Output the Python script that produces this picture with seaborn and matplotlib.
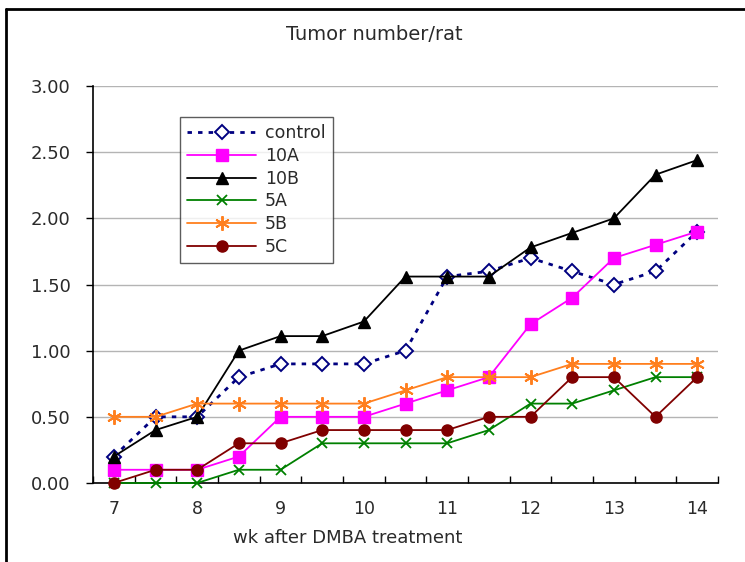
import matplotlib
matplotlib.use("Agg")
import matplotlib.pyplot as plt
from matplotlib.lines import Line2D
from matplotlib.ticker import FixedLocator, FuncFormatter
import seaborn as sns
import pandas as pd

# Weeks after DMBA treatment (half-week sampling)
weeks = [7, 7.5, 8, 8.5, 9, 9.5, 10, 10.5, 11, 11.5, 12, 12.5, 13, 13.5, 14]

# Mean tumor number per rat for each group
control = [0.20, 0.50, 0.50, 0.80, 0.90, 0.90, 0.90, 1.00, 1.56, 1.60, 1.70, 1.60, 1.50, 1.60, 1.90]
g10A = [0.10, 0.10, 0.10, 0.20, 0.50, 0.50, 0.50, 0.60, 0.70, 0.80, 1.20, 1.40, 1.70, 1.80, 1.90]
g10B = [0.20, 0.40, 0.50, 1.00, 1.11, 1.11, 1.22, 1.56, 1.56, 1.56, 1.78, 1.89, 2.00, 2.33, 2.44]
g5A = [0.00, 0.00, 0.00, 0.10, 0.10, 0.30, 0.30, 0.30, 0.30, 0.40, 0.60, 0.60, 0.70, 0.80, 0.80]
g5B = [0.50, 0.50, 0.60, 0.60, 0.60, 0.60, 0.60, 0.70, 0.80, 0.80, 0.80, 0.90, 0.90, 0.90, 0.90]
g5C = [0.00, 0.10, 0.10, 0.30, 0.30, 0.40, 0.40, 0.40, 0.40, 0.50, 0.50, 0.80, 0.80, 0.50, 0.80]

groups = ["control", "10A", "10B", "5A", "5B", "5C"]
values = [control, g10A, g10B, g5A, g5B, g5C]

week_ticks = [7, 8, 9, 10, 11, 12, 13, 14]
y_ticks = [0.0, 0.5, 1.0, 1.5, 2.0, 2.5, 3.0]

df = pd.DataFrame(
    [(w, g, v) for g, vals in zip(groups, values) for w, v in zip(weeks, vals)],
    columns=["week", "group", "tumors"],
)

sns.set_theme(style="white")
plt.rcParams["font.family"] = ["DejaVu Sans"]

fig = plt.figure(figsize=(7.45, 5.62), dpi=100)
ax = fig.add_axes([93 / 745, 79 / 562, 625 / 745, 397 / 562])

styles = {
    "control": dict(color="#000080", marker="D", ms=7.5, mfc="white", mec="#000080",
                    mew=1.4, ls=(0, (1.6, 2.2)), lw=2.0),
    "10A": dict(color="#FF00FF", marker="s", ms=8, mfc="#FF00FF", mec="#FF00FF",
                mew=1.0, ls="-", lw=1.3),
    "10B": dict(color="black", marker="^", ms=8.5, mfc="black", mec="black",
                mew=1.0, ls="-", lw=1.3),
    "5A": dict(color="#008000", marker="x", ms=7.5, mfc="none", mec="#008000",
               mew=1.3, ls="-", lw=1.3),
    "5B": dict(color="#FF7F1E", marker=(6, 2, 0), ms=10.5, mfc="none", mec="#FF7F1E",
               mew=1.4, ls="-", lw=1.3),
    "5C": dict(color="#800000", marker="o", ms=8, mfc="#800000", mec="#800000",
               mew=1.0, ls="-", lw=1.3),
}

handles = []
for g in groups:
    st = styles[g]
    sub = df[df["group"] == g]
    sns.lineplot(data=sub, x="week", y="tumors", ax=ax, color=st["color"],
                 linestyle=st["ls"], linewidth=st["lw"], marker=st["marker"],
                 markersize=st["ms"], markerfacecolor=st["mfc"],
                 markeredgecolor=st["mec"], markeredgewidth=st["mew"],
                 legend=False, zorder=3, clip_on=False)
    handles.append(Line2D([0], [0], color=st["color"], linestyle=st["ls"],
                          linewidth=st["lw"], marker=st["marker"], markersize=st["ms"],
                          markerfacecolor=st["mfc"], markeredgecolor=st["mec"],
                          markeredgewidth=st["mew"]))

ax.set_xlim(6.75, 14.25)
ax.set_ylim(0, 3.0)

# Category-style x axis: labels at whole weeks, tick marks between samples
ax.xaxis.set_major_locator(FixedLocator(week_ticks))
ax.xaxis.set_minor_locator(FixedLocator([6.75 + 0.5 * i for i in range(16)]))
ax.tick_params(axis="x", which="major", length=0, pad=12, labelsize=12.5,
               labelcolor="#2a2a2a")
ax.tick_params(axis="x", which="minor", direction="in", length=5, width=1,
               color="black", bottom=True)

ax.yaxis.set_major_locator(FixedLocator(y_ticks))
ax.yaxis.set_major_formatter(FuncFormatter(lambda v, p: f"{v:.2f}"))
ax.tick_params(axis="y", which="major", direction="out", length=5, width=1,
               color="black", left=True, pad=11, labelsize=13, labelcolor="#2a2a2a")

ax.grid(axis="y", color="#b4b4b4", linewidth=1)
ax.set_axisbelow(True)
for side in ("top", "right"):
    ax.spines[side].set_visible(False)
for side in ("left", "bottom"):
    ax.spines[side].set_color("black")
    ax.spines[side].set_linewidth(1.2)
ax.set_xlabel("")
ax.set_ylabel("")

leg = ax.legend(handles, groups, loc="upper left", bbox_to_anchor=(0.139, 0.922),
                frameon=True, fancybox=False, shadow=False, fontsize=12.5,
                handlelength=4.0, labelspacing=0.28, borderpad=0.4,
                handletextpad=0.5, borderaxespad=0)
leg.get_frame().set_edgecolor("#333333")
leg.get_frame().set_linewidth(1.0)
for t in leg.get_texts():
    t.set_color("#2a2a2a")

fig.text(374 / 745, 1 - 35 / 562, "Tumor number/rat", ha="center", va="center",
         fontsize=14, color="#2a2a2a")
fig.text(348 / 745, 1 - 538 / 562, "wk after DMBA treatment", ha="center",
         va="center", fontsize=13, color="#2a2a2a")

# Outer frame along the top and left edges
fig.add_artist(Line2D([6 / 745, 1], [1 - 8.5 / 562, 1 - 8.5 / 562],
                      transform=fig.transFigure, color="black", lw=2))
fig.add_artist(Line2D([6 / 745, 6 / 745], [0, 1 - 8.5 / 562],
                      transform=fig.transFigure, color="black", lw=2))

fig.savefig("out.png", dpi=100, facecolor="white")
